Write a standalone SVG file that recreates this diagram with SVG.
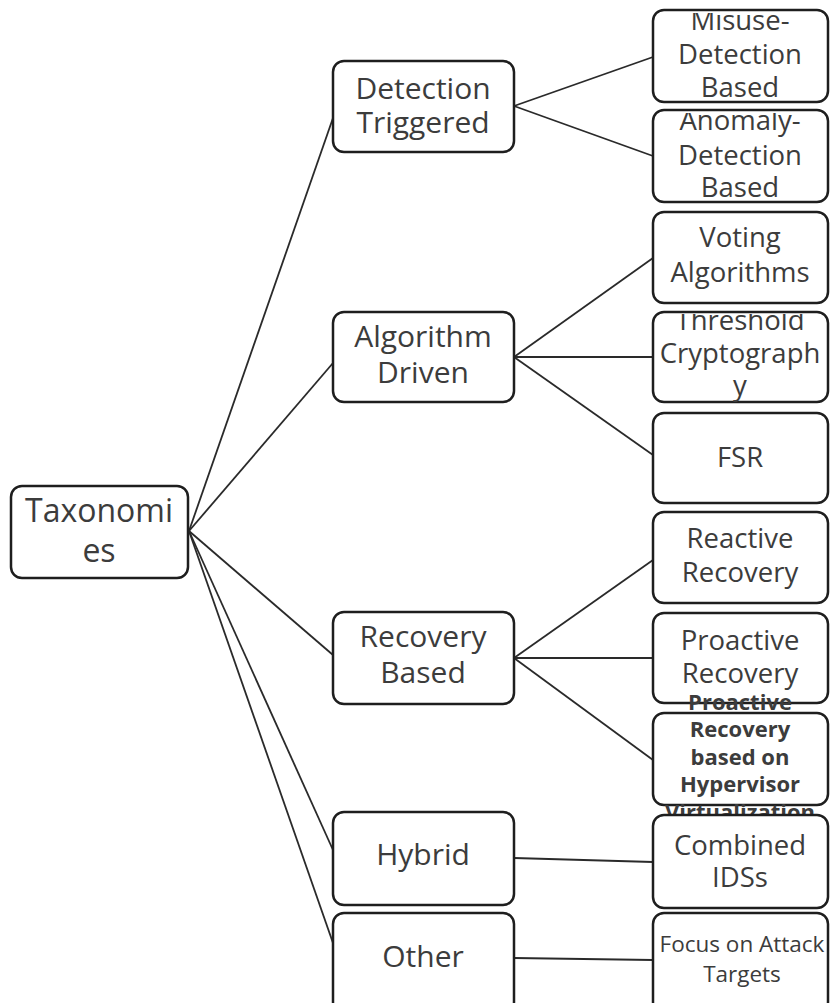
<svg xmlns="http://www.w3.org/2000/svg" width="830" height="1003" viewBox="0 0 830 1003">
<style>
.box{fill:#fff;stroke:#1e1e1e;stroke-width:2.5}
.t{font-family:"Open Sans","Noto Sans",sans-serif;fill:#3c3c3c;text-anchor:middle}
.m{font-size:30px}
.r{font-size:27.5px}
.b{font-size:22px;font-weight:bold}
.c line{stroke:#2a2a2a;stroke-width:1.8}
</style>
<defs>
<clipPath id="c1"><rect x="650" y="13" width="180" height="100"/></clipPath>
<clipPath id="c2"><rect x="650" y="113" width="180" height="100"/></clipPath>
<clipPath id="c3"><rect x="650" y="314" width="180" height="100"/></clipPath>
</defs>
<rect width="830" height="1003" fill="#fff"/>
<g class="c" id="connectors">
<line x1="189" y1="531" x2="333" y2="118"/>
<line x1="189" y1="531" x2="333" y2="363"/>
<line x1="189" y1="531" x2="333" y2="655"/>
<line x1="189" y1="531" x2="333" y2="850"/>
<line x1="189" y1="531" x2="333" y2="943"/>
<line x1="514" y1="106" x2="653" y2="57"/>
<line x1="514" y1="106" x2="653" y2="156"/>
<line x1="514" y1="357" x2="653" y2="258"/>
<line x1="514" y1="357" x2="653" y2="357"/>
<line x1="514" y1="357" x2="653" y2="455"/>
<line x1="514" y1="658" x2="653" y2="560"/>
<line x1="514" y1="658" x2="653" y2="658"/>
<line x1="514" y1="658" x2="653" y2="760"/>
<line x1="514" y1="858" x2="653" y2="862"/>
<line x1="514" y1="958" x2="653" y2="960"/>
</g>
<g id="taxonomies"><rect class="box" x="11" y="486" width="177" height="92" rx="11"/>
<text class="t" x="99" y="522" font-size="32">Taxonomi</text><text class="t" x="99" y="562" font-size="32">es</text></g>
<g id="detection"><rect class="box" x="333" y="61" width="181" height="91" rx="11"/>
<text class="t m" x="423" y="99">Detection</text><text class="t m" x="423" y="133">Triggered</text></g>
<g id="algorithm"><rect class="box" x="333" y="312" width="181" height="90" rx="11"/>
<text class="t m" x="423" y="347">Algorithm</text><text class="t m" x="423" y="383">Driven</text></g>
<g id="recovery"><rect class="box" x="333" y="612" width="181" height="92" rx="11"/>
<text class="t m" x="423" y="647">Recovery</text><text class="t m" x="423" y="683">Based</text></g>
<g id="hybrid"><rect class="box" x="333" y="812" width="181" height="93" rx="11"/>
<text class="t m" x="423" y="865">Hybrid</text></g>
<g id="other"><rect class="box" x="333" y="913" width="181" height="100" rx="11"/>
<text class="t m" x="423" y="967">Other</text></g>
<g id="misuse"><rect class="box" x="653" y="10" width="175" height="92" rx="11"/>
<g clip-path="url(#c1)"><text class="t r" x="740" y="30">Misuse-</text><text class="t r" x="740" y="64">Detection</text><text class="t r" x="740" y="97">Based</text></g></g>
<g id="anomaly"><rect class="box" x="653" y="110" width="175" height="92" rx="11"/>
<g clip-path="url(#c2)"><text class="t r" x="740" y="130">Anomaly-</text><text class="t r" x="740" y="165">Detection</text><text class="t r" x="740" y="197">Based</text></g></g>
<g id="voting"><rect class="box" x="653" y="212" width="175" height="91" rx="11"/>
<text class="t r" x="740" y="247">Voting</text><text class="t r" x="740" y="282">Algorithms</text></g>
<g id="threshold"><rect class="box" x="653" y="312" width="175" height="90" rx="11"/>
<g clip-path="url(#c3)"><text class="t r" x="740" y="330">Threshold</text><text class="t r" x="740" y="363">Cryptograph</text><text class="t r" x="740" y="395">y</text></g></g>
<g id="fsr"><rect class="box" x="653" y="413" width="175" height="90" rx="11"/>
<text class="t r" x="740" y="467">FSR</text></g>
<g id="reactive"><rect class="box" x="653" y="512" width="175" height="91" rx="11"/>
<text class="t r" x="740" y="548">Reactive</text><text class="t r" x="740" y="582">Recovery</text></g>
<g id="proactive"><rect class="box" x="653" y="613" width="175" height="90" rx="11"/>
<text class="t r" x="740" y="650">Proactive</text><text class="t r" x="740" y="683">Recovery</text></g>
<g id="hypervisor"><rect class="box" x="653" y="713" width="175" height="92" rx="11"/>
<text class="t b" x="740" y="710">Proactive</text><text class="t b" x="740" y="737">Recovery</text><text class="t b" x="740" y="765">based on</text><text class="t b" x="740" y="792">Hypervisor</text><text class="t b" x="740" y="820">Virtualization</text></g>
<g id="combined"><rect class="box" x="653" y="815" width="175" height="93" rx="11"/>
<text class="t r" x="740" y="855">Combined</text><text class="t r" x="740" y="887">IDSs</text></g>
<g id="focus"><rect class="box" x="653" y="913" width="175" height="100" rx="11"/>
<text class="t" x="742" y="952" font-size="22.5">Focus on Attack</text><text class="t" x="742" y="982" font-size="22.5">Targets</text></g>
</svg>
